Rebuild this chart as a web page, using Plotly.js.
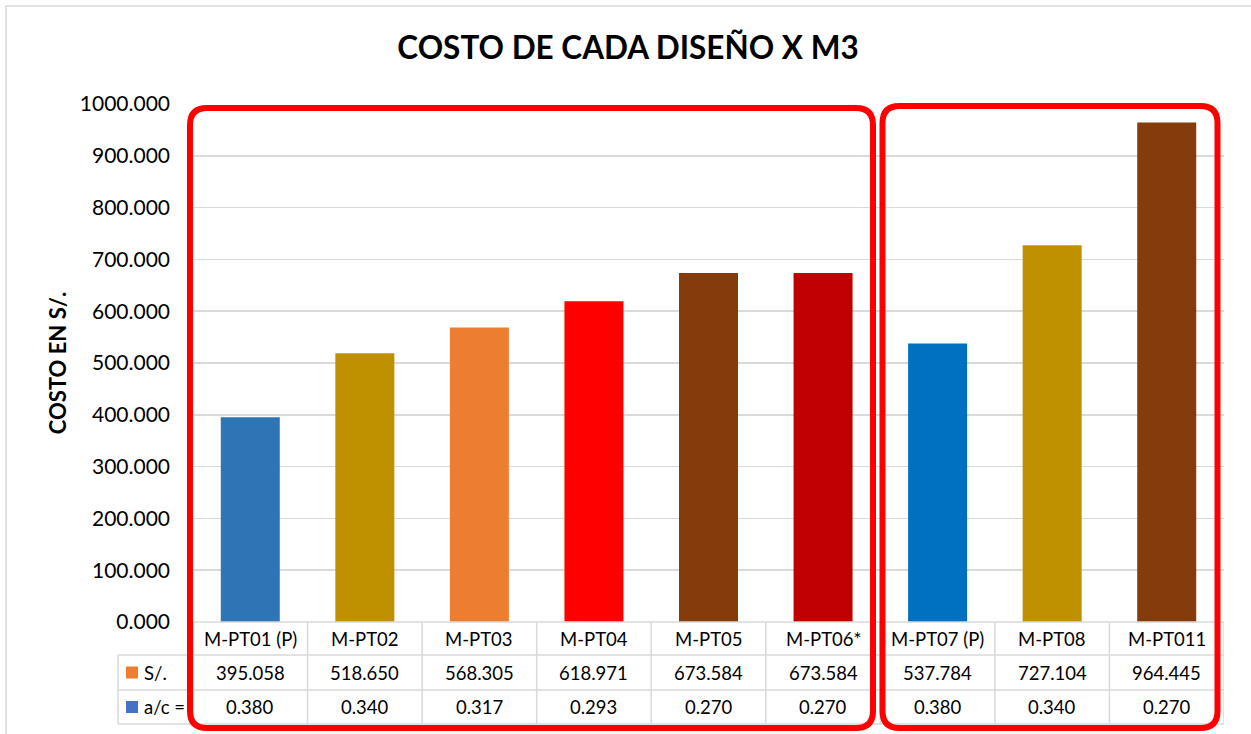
<!DOCTYPE html>
<html>
<head>
<meta charset="utf-8">
<script src="https://cdn.plot.ly/plotly-3.0.1.min.js"></script>
<style>html,body{margin:0;padding:0;background:#fff;}#chart{width:1251px;height:734px;}</style>
</head>
<body>
<div id="chart"></div>
<script>
const categories = ["M-PT01 (P)", "M-PT02", "M-PT03", "M-PT04", "M-PT05", "M-PT06*", "M-PT07 (P)", "M-PT08", "M-PT011"];
const costValues = [395.058, 518.650, 568.305, 618.971, 673.584, 673.584, 537.784, 727.104, 964.445];
const acValues = [0.380, 0.340, 0.317, 0.293, 0.270, 0.270, 0.380, 0.340, 0.270];
const barColors = ["#2E75B6", "#BF9000", "#ED7D31", "#FF0000", "#843C0C", "#C00000", "#0070C0", "#BF9000", "#843C0C"];
const rowLabels = ["S/.", "a/c ="];
const rowKeyColors = ["#ED7D31", "#4472C4"];
const yTicks = [0, 100, 200, 300, 400, 500, 600, 700, 800, 900, 1000];

const W = 1251, H = 734;
const L = 193, R = 1224, T = 104, B = 622;
const xp = px => (px - L) / (R - L);
const yp = py => (B - py) / (B - T);
const FONT = "Lato, 'DejaVu Sans', sans-serif";
const GRID = "#D9D9D9";

const shapes = [];
const annotations = [];

// outer chart frame
shapes.push({type: "rect", xref: "paper", yref: "paper", x0: xp(6), x1: xp(1262), y0: yp(6), y1: yp(745),
  line: {color: GRID, width: 1.5}, layer: "below"});

// table lines
function hline(y, x0, x1) {
  shapes.push({type: "line", xref: "paper", yref: "paper", x0: xp(x0), x1: xp(x1), y0: yp(y), y1: yp(y), line: {color: GRID, width: 1.5}});
}
hline(622, L, R); hline(655, 118, R); hline(690, 118, R); hline(724, 118, R);
for (let i = 0; i <= categories.length; i++) {
  shapes.push({type: "line", xref: "x", yref: "paper", x0: i - 0.5, x1: i - 0.5, y0: yp(622), y1: yp(724), line: {color: GRID, width: 1.5}});
}
shapes.push({type: "line", xref: "paper", yref: "paper", x0: xp(118), x1: xp(118), y0: yp(655), y1: yp(724), line: {color: GRID, width: 1.5}});

// header + values
const rowY = [638.5, 672.5, 707];
categories.forEach((c, i) => {
  annotations.push({xref: "x", yref: "paper", x: i, y: yp(rowY[0]), text: c, showarrow: false, xanchor: "center", yanchor: "middle", font: {family: FONT, size: 18.5, color: "#000"}});
  annotations.push({xref: "x", yref: "paper", x: i, y: yp(rowY[1]), text: costValues[i].toFixed(3), showarrow: false, xanchor: "center", yanchor: "middle", font: {family: FONT, size: 18.5, color: "#000"}});
  annotations.push({xref: "x", yref: "paper", x: i, y: yp(rowY[2]), text: acValues[i].toFixed(3), showarrow: false, xanchor: "center", yanchor: "middle", font: {family: FONT, size: 18.5, color: "#000"}});
});
rowLabels.forEach((lab, k) => {
  const cy = rowY[k + 1];
  shapes.push({type: "rect", xref: "paper", yref: "paper", x0: xp(126), x1: xp(138), y0: yp(cy - 6), y1: yp(cy + 6), fillcolor: rowKeyColors[k], line: {width: 0}});
  annotations.push({xref: "paper", yref: "paper", x: xp(142), y: yp(cy), text: lab, showarrow: false, xanchor: "left", yanchor: "middle", font: {family: FONT, size: 18.5, color: "#000"}});
});

// red rounded rectangles
function roundRect(x0, y0, x1, y1, r) {
  const P = (x, y) => xp(x) + "," + yp(y);
  return "M" + P(x0 + r, y0) + " L" + P(x1 - r, y0) + " Q" + P(x1, y0) + " " + P(x1, y0 + r) +
    " L" + P(x1, y1 - r) + " Q" + P(x1, y1) + " " + P(x1 - r, y1) +
    " L" + P(x0 + r, y1) + " Q" + P(x0, y1) + " " + P(x0, y1 - r) +
    " L" + P(x0, y0 + r) + " Q" + P(x0, y0) + " " + P(x0 + r, y0) + " Z";
}
shapes.push({type: "path", xref: "paper", yref: "paper", path: roundRect(190, 108, 873, 728, 17), line: {color: "#FF0000", width: 6}});
shapes.push({type: "path", xref: "paper", yref: "paper", path: roundRect(882.5, 106, 1217.5, 728, 17), line: {color: "#FF0000", width: 6}});

const trace = {
  type: "bar",
  x: categories,
  y: costValues,
  marker: {color: barColors, line: {width: 0}},
  width: 0.515,
  hoverinfo: "x+y"
};

const layout = {
  width: W, height: H,
  margin: {l: L, r: W - R, t: T, b: H - B, pad: 0},
  paper_bgcolor: "#fff", plot_bgcolor: "#fff",
  showlegend: false,
  title: {text: "COSTO DE CADA DISEÑO X M3", x: 0.502, xanchor: "center", y: 1 - 48 / H, yanchor: "middle", yref: "container",
    font: {family: FONT, size: 31.5, color: "#000", weight: "bold"}},
  xaxis: {type: "category", range: [-0.5, categories.length - 0.5], showticklabels: false, showgrid: false, zeroline: false, showline: false, ticks: "", fixedrange: true},
  yaxis: {range: [0, 1000], tickvals: yTicks, ticktext: yTicks.map(v => v.toFixed(3)), showgrid: true, gridcolor: GRID, gridwidth: 1.5,
    zeroline: false, showline: false, ticks: "", ticklabelstandoff: 22,
    tickfont: {family: FONT, size: 21, color: "#000"},
    title: {text: "COSTO EN S/.", standoff: 7, font: {family: FONT, size: 22, color: "#000", weight: "bold"}}},
  shapes: shapes,
  annotations: annotations
};

Plotly.newPlot("chart", [trace], layout, {displayModeBar: false, staticPlot: true});
</script>
</body>
</html>
